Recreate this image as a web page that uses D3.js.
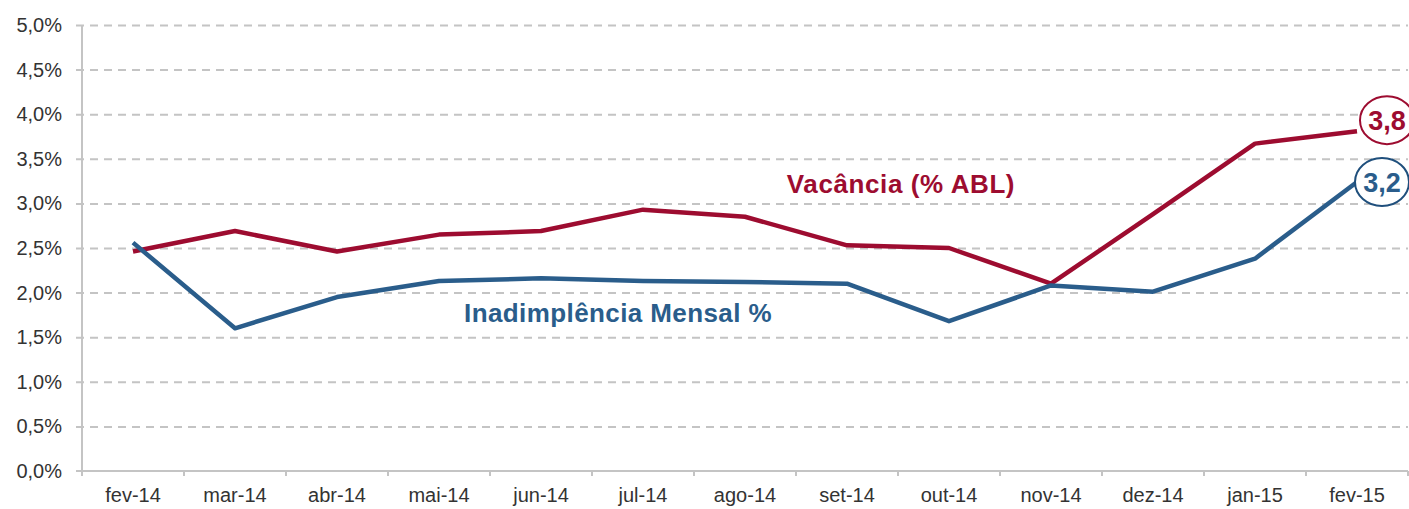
<!DOCTYPE html>
<html>
<head>
<meta charset="utf-8">
<script src="https://cdn.jsdelivr.net/npm/d3@7"></script>
<style>
  html, body { margin: 0; padding: 0; background: #fff; overflow: hidden; }
  svg { display: block; font-family: "Liberation Sans", Arial, sans-serif; }
</style>
</head>
<body>
<div id="canvas"></div>
<script>
"use strict"

/* data */
let months = ["fev-14", "mar-14", "abr-14", "mai-14", "jun-14", "jul-14", "ago-14",
    "set-14", "out-14", "nov-14", "dez-14", "jan-15", "fev-15"];
let vacancia = [2.46, 2.69, 2.46, 2.65, 2.69, 2.93, 2.85, 2.53, 2.50, 2.10, 2.88, 3.67, 3.81];
let inadimplencia = [2.56, 1.60, 1.95, 2.13, 2.16, 2.13, 2.12, 2.10, 1.68, 2.08, 2.01, 2.38, 3.24];
let yTicks = [0, 0.5, 1, 1.5, 2, 2.5, 3, 3.5, 4, 4.5, 5];
let endLabels = ["3,8", "3,2"];

/* drawing config */
let svgWidth = 1409;
let svgHeight = 509;
let leftMargin = 82;
let rightEdge = 1408;
let topMargin = 25;
let bottomY = 471;

let redColor = "#9d0c30";
let blueColor = "#2a5d8b";
let gridColor = "#c4c4c4";

let svg = d3.select("#canvas")
    .append("svg")
    .attr("width", svgWidth)
    .attr("height", svgHeight);

let xScale = d3.scaleBand()
    .domain(months)
    .range([leftMargin, rightEdge]);

let yScale = d3.scaleLinear()
    .domain([0, 5])
    .range([bottomY, topMargin]);

let fmt = function (v) { return d3.format(".1f")(v).replace(".", ",") + "%"; };

/* dashed grid lines, starting a bit left of the axis */
let grid = svg.append("g")
    .attr("transform", "translate(76,0)")
    .call(d3.axisRight(yScale).tickValues(yTicks.slice(1)).tickSize(rightEdge - 76).tickFormat(""));
grid.select(".domain").remove();
grid.selectAll("line")
    .attr("stroke", gridColor)
    .attr("stroke-width", 2)
    .attr("stroke-dasharray", "8,6");

/* y axis labels */
let yAxis = svg.append("g")
    .attr("transform", "translate(" + leftMargin + ",0)")
    .call(d3.axisLeft(yScale).tickValues(yTicks).tickSize(0).tickPadding(20).tickFormat(fmt));
yAxis.select(".domain").remove();
yAxis.selectAll("text")
    .attr("font-size", 20)
    .attr("font-family", "Liberation Sans, Arial, sans-serif")
    .attr("fill", "#333");

/* small tick at 0 left of the axis */
svg.append("line")
    .attr("x1", 76).attr("x2", leftMargin)
    .attr("y1", yScale(0)).attr("y2", yScale(0))
    .attr("stroke", gridColor).attr("stroke-width", 2);

/* axis lines */
svg.append("line")
    .attr("x1", leftMargin).attr("x2", leftMargin)
    .attr("y1", yScale(5)).attr("y2", yScale(0))
    .attr("stroke", gridColor).attr("stroke-width", 2);

svg.append("line")
    .attr("x1", leftMargin).attr("x2", rightEdge)
    .attr("y1", yScale(0)).attr("y2", yScale(0))
    .attr("stroke", gridColor).attr("stroke-width", 2);

/* x ticks at category boundaries */
let bounds = months.map(function (m) { return xScale(m); });
bounds.push(xScale(months[months.length - 1]) + xScale.bandwidth());
svg.selectAll(".xtick")
    .data(bounds)
    .join("line")
    .attr("class", "xtick")
    .attr("x1", function (d) { return d; })
    .attr("x2", function (d) { return d; })
    .attr("y1", yScale(0))
    .attr("y2", yScale(0) + 5)
    .attr("stroke", gridColor)
    .attr("stroke-width", 2);

/* x labels */
let xAxis = svg.append("g")
    .attr("transform", "translate(0," + yScale(0) + ")")
    .call(d3.axisBottom(xScale).tickSize(0).tickPadding(17));
xAxis.select(".domain").remove();
xAxis.selectAll("text")
    .attr("font-size", 20)
    .attr("font-family", "Liberation Sans, Arial, sans-serif")
    .attr("fill", "#333");

/* lines */
let line = d3.line()
    .x(function (d, i) { return xScale(months[i]) + xScale.bandwidth() / 2; })
    .y(function (d) { return yScale(d); });

svg.append("path")
    .datum(vacancia)
    .attr("d", line)
    .attr("fill", "none")
    .attr("stroke", redColor)
    .attr("stroke-width", 4.5)
    .attr("stroke-linejoin", "round");

svg.append("path")
    .datum(inadimplencia)
    .attr("d", line)
    .attr("fill", "none")
    .attr("stroke", blueColor)
    .attr("stroke-width", 4.5)
    .attr("stroke-linejoin", "round");

/* series names */
svg.append("text")
    .attr("x", 901)
    .attr("y", 193)
    .attr("text-anchor", "middle")
    .attr("font-size", 26)
    .attr("letter-spacing", 0.6)
    .attr("font-weight", "bold")
    .attr("fill", redColor)
    .text("Vacância (% ABL)");

svg.append("text")
    .attr("x", 618)
    .attr("y", 322)
    .attr("text-anchor", "middle")
    .attr("font-size", 26)
    .attr("letter-spacing", 0.4)
    .attr("font-weight", "bold")
    .attr("fill", blueColor)
    .text("Inadimplência Mensal %");

/* end value bubbles */
let lastX = xScale(months[months.length - 1]) + xScale.bandwidth() / 2;
let bubbles = [
    { v: vacancia[vacancia.length - 1], label: endLabels[0], color: redColor, dx: 30, dy: -11 },
    { v: inadimplencia[inadimplencia.length - 1], label: endLabels[1], color: "#1f4f7c", dx: 25, dy: 0 }
];
for (let i = 0; i < bubbles.length; i++) {
    let b = bubbles[i];
    let cx = lastX + b.dx;
    let cy = yScale(b.v) + b.dy;
    svg.append("ellipse")
        .attr("cx", cx)
        .attr("cy", cy)
        .attr("rx", 27)
        .attr("ry", 24)
        .attr("fill", "white")
        .attr("stroke", b.color)
        .attr("stroke-width", 2);
    svg.append("text")
        .attr("x", cx)
        .attr("y", cy + 10)
        .attr("text-anchor", "middle")
        .attr("font-size", 27)
        .attr("font-weight", "bold")
        .attr("fill", i === 0 ? redColor : blueColor)
        .text(b.label);
}
</script>
</body>
</html>
